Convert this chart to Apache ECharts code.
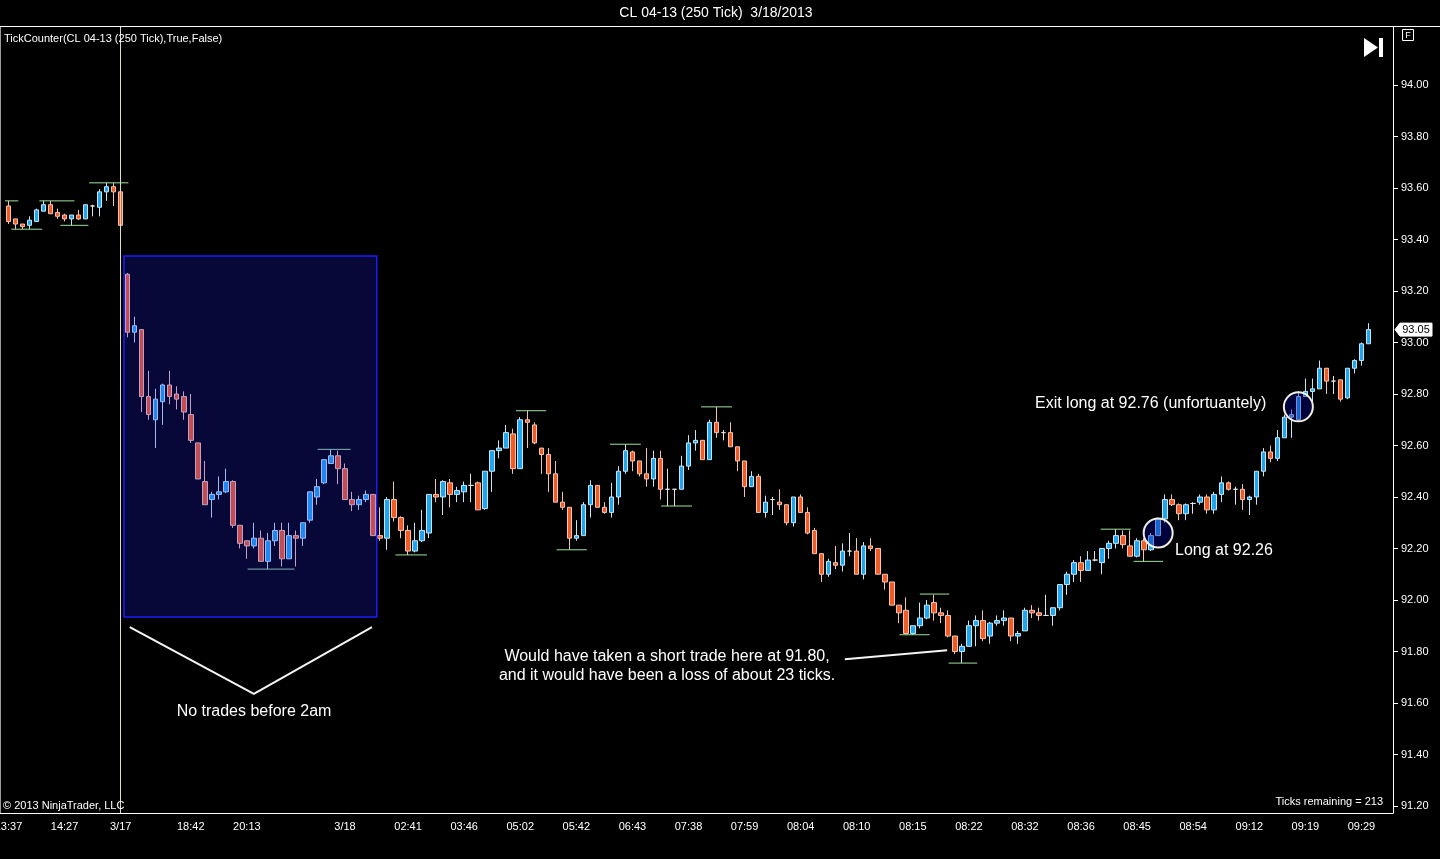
<!DOCTYPE html>
<html>
<head>
<meta charset="utf-8">
<title>CL 04-13 (250 Tick) 3/18/2013</title>
<script src="https://cdn.jsdelivr.net/npm/echarts@6/dist/echarts.min.js"></script>
<style>
html, body { margin: 0; padding: 0; background: #000; }
#chart { width: 1440px; height: 859px; }
</style>
</head>
<body>
<div id="chart"></div>
<script>
// OHLC of the 250 tick bars
var openP = [93.53,93.48,93.46,93.455,93.47,93.51,93.535,93.505,93.495,93.48,93.495,93.48,93.53,93.525,93.585,93.605,93.585,
    93.265,93.04,93.05,92.79,92.70,92.77,92.835,92.80,92.79,92.72,92.61,92.46,92.39,92.41,92.42,92.46,92.29,92.23,92.21,92.24,
    92.15,92.23,92.27,92.16,92.25,92.24,92.31,92.40,92.455,92.53,92.56,92.51,92.39,92.37,92.39,92.41,92.25,92.24,92.39,92.32,
    92.27,92.19,92.23,92.26,92.41,92.40,92.455,92.41,92.42,92.445,92.455,92.355,92.50,92.58,92.59,92.645,92.51,92.70,92.68,92.59,
    92.565,92.49,92.38,92.36,92.24,92.25,92.37,92.445,92.36,92.34,92.40,92.50,92.575,92.54,92.49,92.47,92.55,92.43,92.43,92.43,
    92.52,92.61,92.62,92.545,92.69,92.65,92.65,92.595,92.54,92.44,92.48,92.34,92.39,92.38,92.37,92.30,92.40,92.34,92.27,92.18,
    92.10,92.145,92.135,92.19,92.19,92.10,92.21,92.20,92.10,92.07,91.98,91.96,91.87,91.90,91.93,91.99,91.95,91.94,91.86,91.80,
    91.82,91.90,91.92,91.86,91.91,91.92,91.93,91.86,91.88,91.96,91.95,91.94,91.94,91.97,92.06,92.10,92.145,92.115,92.155,92.145,
    92.20,92.22,92.25,92.21,92.17,92.23,92.195,92.25,92.315,92.39,92.37,92.335,92.375,92.38,92.40,92.35,92.41,92.455,92.43,92.43,
    92.39,92.40,92.50,92.575,92.55,92.63,92.71,92.70,92.79,92.81,92.82,92.90,92.85,92.855,92.785,92.90,92.93,92.995];
var closeP = [93.47,93.46,93.45,93.475,93.515,93.535,93.50,93.49,93.48,93.495,93.48,93.535,93.53,93.585,93.605,93.585,93.455,
    93.04,93.065,92.79,92.72,92.78,92.835,92.79,92.78,92.73,92.62,92.47,92.37,92.41,92.42,92.46,92.29,92.22,92.21,92.24,92.15,
    92.23,92.27,92.16,92.25,92.24,92.30,92.42,92.44,92.545,92.56,92.51,92.39,92.37,92.39,92.41,92.25,92.24,92.39,92.32,92.27,
    92.19,92.23,92.27,92.41,92.40,92.46,92.41,92.425,92.445,92.445,92.35,92.50,92.58,92.59,92.65,92.51,92.70,92.69,92.61,92.565,
    92.49,92.38,92.36,92.24,92.25,92.37,92.445,92.36,92.34,92.40,92.50,92.58,92.54,92.49,92.47,92.55,92.43,92.43,92.43,92.52,
    92.61,92.62,92.545,92.69,92.65,92.65,92.595,92.54,92.44,92.48,92.34,92.38,92.39,92.37,92.30,92.40,92.34,92.26,92.18,92.10,
    92.15,92.135,92.19,92.19,92.10,92.21,92.20,92.10,92.07,91.98,91.95,91.87,91.90,91.93,91.98,91.95,91.94,91.86,91.80,91.82,
    91.90,91.92,91.85,91.91,91.92,91.93,91.86,91.87,91.96,91.95,91.94,91.94,91.97,92.06,92.10,92.145,92.115,92.155,92.155,92.20,
    92.22,92.25,92.215,92.17,92.23,92.195,92.25,92.315,92.39,92.37,92.335,92.37,92.375,92.40,92.35,92.41,92.455,92.43,92.43,92.39,
    92.40,92.50,92.575,92.55,92.63,92.71,92.72,92.79,92.81,92.82,92.90,92.85,92.85,92.78,92.90,92.93,92.995,93.05];
var lowP = [93.46,93.44,93.44,93.44,93.47,93.51,93.50,93.48,93.47,93.455,93.475,93.48,93.49,93.49,93.55,93.53,93.44,
    93.02,93.00,92.73,92.70,92.59,92.68,92.76,92.74,92.70,92.61,92.47,92.37,92.32,92.39,92.415,92.28,92.20,92.16,92.20,92.15,
    92.12,92.21,92.13,92.16,92.13,92.21,92.30,92.37,92.45,92.53,92.45,92.39,92.345,92.35,92.38,92.25,92.23,92.195,92.305,92.24,
    92.175,92.185,92.225,92.24,92.38,92.33,92.36,92.38,92.38,92.38,92.35,92.35,92.42,92.55,92.59,92.49,92.51,92.59,92.605,92.49,
    92.42,92.38,92.35,92.195,92.23,92.25,92.32,92.36,92.335,92.32,92.37,92.49,92.50,92.48,92.44,92.44,92.39,92.365,92.365,92.43,
    92.505,92.58,92.545,92.545,92.63,92.62,92.595,92.50,92.40,92.44,92.34,92.32,92.33,92.35,92.29,92.285,92.34,92.255,92.18,92.07,
    92.09,92.12,92.11,92.17,92.10,92.08,92.19,92.10,92.04,91.98,91.91,91.87,91.865,91.89,91.925,91.92,91.91,91.855,91.79,91.755,
    91.82,91.82,91.84,91.83,91.90,91.90,91.84,91.83,91.88,91.93,91.92,91.94,91.90,91.96,92.02,92.07,92.07,92.115,92.15,92.10,
    92.16,92.20,92.20,92.17,92.165,92.15,92.19,92.25,92.30,92.365,92.31,92.31,92.335,92.37,92.335,92.335,92.38,92.425,92.37,92.35,
    92.33,92.37,92.48,92.535,92.54,92.63,92.63,92.70,92.79,92.77,92.82,92.80,92.80,92.77,92.78,92.88,92.91,92.995];
var highP = [93.55,93.48,93.46,93.49,93.52,93.55,93.55,93.52,93.50,93.495,93.515,93.535,93.535,93.595,93.62,93.62,93.585,
    93.27,93.10,93.05,92.89,92.82,92.84,92.89,92.83,92.81,92.80,92.61,92.54,92.42,92.48,92.51,92.465,92.29,92.23,92.30,92.27,
    92.26,92.30,92.30,92.30,92.27,92.30,92.42,92.47,92.545,92.585,92.58,92.53,92.42,92.405,92.425,92.41,92.36,92.40,92.46,92.325,
    92.29,92.30,92.35,92.41,92.47,92.465,92.47,92.44,92.46,92.49,92.46,92.50,92.58,92.62,92.68,92.665,92.71,92.735,92.69,92.59,
    92.59,92.54,92.42,92.36,92.31,92.38,92.465,92.445,92.38,92.455,92.52,92.605,92.58,92.54,92.59,92.58,92.58,92.51,92.43,92.56,
    92.64,92.66,92.62,92.70,92.75,92.66,92.69,92.595,92.54,92.50,92.49,92.405,92.40,92.43,92.37,92.40,92.41,92.36,92.28,92.18,
    92.16,92.21,92.22,92.26,92.24,92.225,92.24,92.20,92.10,92.07,91.98,92.01,91.90,91.99,92.00,92.02,91.97,91.96,91.86,91.83,
    91.92,91.94,91.96,91.915,91.94,91.96,91.93,91.88,91.97,91.98,91.97,92.02,91.97,92.06,92.11,92.155,92.17,92.19,92.19,92.20,
    92.23,92.275,92.27,92.27,92.24,92.24,92.26,92.32,92.41,92.41,92.375,92.375,92.38,92.41,92.41,92.42,92.48,92.46,92.44,92.45,
    92.405,92.50,92.59,92.60,92.66,92.72,92.74,92.81,92.86,92.86,92.93,92.90,92.87,92.855,92.90,92.935,93.00,93.075];

// time axis: bar index of each tick and its label
var tickBars = [0, 8, 16, 26, 34, 42, 48, 57, 65, 73, 81, 89, 97, 105, 113, 121, 129, 137, 145, 153, 161, 169, 177, 185, 193];
var tickLabels = ['13:37', '14:27', '3/17', '18:42', '20:13', '', '3/18', '02:41', '03:46', '05:02', '05:42', '06:43', '07:38',
    '07:59', '08:04', '08:10', '08:15', '08:22', '08:32', '08:36', '08:45', '08:54', '09:12', '09:19', '09:29'];
var priceTicks = [91.2, 91.4, 91.6, 91.8, 92.0, 92.2, 92.4, 92.6, 92.8, 93.0, 93.2, 93.4, 93.6, 93.8, 94.0];

// swing high / low markers: [from bar, to bar, price]
var swingLines = [[-0.5, 1.4, 93.55], [0.4, 4.8, 93.44], [4.4, 9.4, 93.55], [7.4, 11.4, 93.455], [11.5, 17.1, 93.62],
    [34.1, 40.8, 92.12], [44.1, 48.8, 92.585], [55.2, 59.7, 92.175], [72.4, 76.7, 92.735], [78.2, 82.5, 92.195],
    [85.8, 90.2, 92.605], [93.1, 97.5, 92.365], [98.8, 103.2, 92.75], [127.1, 131.4, 91.865], [130.0, 134.2, 92.023],
    [134.1, 138.2, 91.755], [155.8, 160.1, 92.275], [160.5, 164.7, 92.15]];

// annotations (bar index, price)
var sessionBar = 16;
var noTradeBox = [16.48, 93.336, 52.53, 91.934];
var noTradeV = [[17.3, 91.895], [35.0, 91.635], [51.85, 91.895]];
var shortPointer = [[119.3, 91.77], [133.9, 91.805]];
var tradeMarks = [[164, 92.26], [184, 92.75]];
var lastPrice = 93.05;

var padBars = 3;
var categories = [];
var candles = [];
var i;
for (i = 0; i < openP.length + padBars; i++) {
    categories.push(String(i));
}
for (i = 0; i < openP.length; i++) {
    candles.push([openP[i], closeP[i], lowP[i], highP[i]]);
}

var FONT = '"Liberation Sans", Arial, sans-serif';
var chart = echarts.init(document.getElementById('chart'));

var option = {
    backgroundColor: '#000',
    animation: false,
    grid: { left: 5, right: 47, top: 27, bottom: 46, containLabel: false, outerBoundsMode: 'none' },
    xAxis: [{
        type: 'category',
        data: categories,
        boundaryGap: true,
        axisLine: { onZero: false, lineStyle: { color: '#ffffff', width: 1 } },
        axisTick: {
            alignWithLabel: true,
            length: 6,
            lineStyle: { color: '#ffffff' },
            interval: function (idx) { return tickBars.indexOf(idx) >= 0; }
        },
        axisLabel: {
            color: '#ffffff',
            fontSize: 11,
            fontFamily: FONT,
            margin: 8,
            interval: function (idx) { return tickBars.indexOf(idx) >= 0; },
            formatter: function (val) {
                var k = tickBars.indexOf(Number(val));
                return k >= 0 ? tickLabels[k] : '';
            }
        },
        splitLine: { show: false }
    }, {
        type: 'value',
        min: -0.5,
        max: categories.length - 0.5,
        show: false
    }],
    yAxis: {
        type: 'value',
        position: 'right',
        min: 91.1728,
        max: 94.2252,
        axisLine: { show: true, onZero: false, lineStyle: { color: '#ffffff' } },
        axisTick: { show: true, length: 5, customValues: priceTicks, lineStyle: { color: '#ffffff' } },
        axisLabel: {
            customValues: priceTicks,
            color: '#ffffff',
            fontSize: 11,
            fontFamily: FONT,
            margin: 8,
            formatter: function (v) { return v.toFixed(2); }
        },
        splitLine: { show: false }
    },
    series: [{
        type: 'candlestick',
        xAxisIndex: 0,
        data: candles,
        barWidth: 5,
        z: 2,
        itemStyle: {
            color: '#20a4ee',
            color0: '#f05a23',
            borderColor: '#c4e6f6',
            borderColor0: '#f2c4b4',
            borderColorDoji: '#e4e4e4',
            borderWidth: 1
        },
        markLine: {
            silent: true,
            symbol: ['none', 'none'],
            label: { show: false },
            lineStyle: { color: '#dcdccc', width: 1, type: 'solid' },
            data: [{ xAxis: String(sessionBar) }]
        }
    }, {
        type: 'custom',
        xAxisIndex: 1,
        z: 3,
        silent: true,
        data: swingLines,
        encode: { x: [0, 1], y: 2 },
        renderItem: function (params, api) {
            var p0 = api.coord([api.value(0), api.value(2)]);
            var p1 = api.coord([api.value(1), api.value(2)]);
            return {
                type: 'line',
                shape: { x1: p0[0], y1: p0[1], x2: p1[0], y2: p1[1] },
                style: { stroke: '#9ee39e', lineWidth: 1 }
            };
        }
    }, {
        type: 'custom',
        xAxisIndex: 1,
        z: 4,
        silent: true,
        data: [noTradeBox],
        encode: { x: [0, 2], y: [1, 3] },
        renderItem: function (params, api) {
            var p0 = api.coord([api.value(0), api.value(1)]);
            var p1 = api.coord([api.value(2), api.value(3)]);
            return {
                type: 'rect',
                shape: { x: p0[0], y: p0[1], width: p1[0] - p0[0], height: p1[1] - p0[1] },
                style: { fill: 'rgba(30,30,255,0.22)', stroke: '#1c1cff', lineWidth: 1.5 }
            };
        }
    }, {
        type: 'line',
        xAxisIndex: 1,
        z: 5,
        silent: true,
        data: noTradeV,
        symbol: 'none',
        lineStyle: { color: '#f4f4f4', width: 2 }
    }, {
        type: 'line',
        xAxisIndex: 1,
        z: 5,
        silent: true,
        data: shortPointer,
        symbol: 'none',
        lineStyle: { color: '#f4f4f4', width: 2 }
    }, {
        type: 'scatter',
        xAxisIndex: 1,
        z: 6,
        silent: true,
        data: tradeMarks,
        symbol: 'circle',
        symbolSize: 29,
        itemStyle: { color: 'rgba(0,0,160,0.38)', borderColor: '#f4f0e2', borderWidth: 2, opacity: 1 }
    }]
};
chart.setOption(option);

// texts, frame and the last price tag
function txt(id, s, x, y, size, align) {
    return {
        type: 'text', id: id, z: 20, silent: true,
        style: {
            text: s, x: x, y: y, fill: '#ffffff',
            font: size + 'px ' + FONT,
            align: align || 'left', textAlign: align || 'left',
            verticalAlign: 'middle', textVerticalAlign: 'middle'
        }
    };
}
var tagY = chart.convertToPixel({ yAxisIndex: 0 }, lastPrice);
var graphics = [
    { type: 'line', id: 'topFrame', silent: true, shape: { x1: 0, y1: 26.5, x2: 1440, y2: 26.5 }, style: { stroke: '#ffffff', lineWidth: 1 } },
    { type: 'line', id: 'leftFrame', silent: true, shape: { x1: 0.5, y1: 27, x2: 0.5, y2: 813 }, style: { stroke: '#9a9a9a', lineWidth: 1 } },
    { type: 'line', id: 'bottomFrame', silent: true, shape: { x1: 0, y1: 813.5, x2: 6, y2: 813.5 }, style: { stroke: '#ffffff', lineWidth: 1 } },
    txt('title', 'CL 04-13 (250 Tick)  3/18/2013', 716, 13, 14, 'center'),
    txt('ind', 'TickCounter(CL 04-13 (250 Tick),True,False)', 4, 39, 11),
    txt('copy', '\u00a9 2013 NinjaTrader, LLC', 3, 806, 11),
    txt('remain', 'Ticks remaining = 213', 1383, 802, 11, 'right'),
    txt('noTrade', 'No trades before 2am', 254, 712, 16, 'center'),
    txt('short1', 'Would have taken a short trade here at 91.80,', 667, 657, 16, 'center'),
    txt('short2', 'and it would have been a loss of about 23 ticks.', 667, 676, 16, 'center'),
    txt('long', 'Long at 92.26', 1175, 551, 16),
    txt('exit', 'Exit long at 92.76 (unfortuantely)', 1035, 404, 16),
    { type: 'polygon', id: 'play', silent: true, shape: { points: [[1364, 38], [1378, 47.5], [1364, 57]] }, style: { fill: '#ffffff' } },
    { type: 'rect', id: 'playBar', silent: true, shape: { x: 1379, y: 38, width: 4, height: 19 }, style: { fill: '#ffffff' } },
    { type: 'rect', id: 'fBox', silent: true, shape: { x: 1402.5, y: 29.5, width: 11, height: 11 }, style: { fill: '#000', stroke: '#ffffff', lineWidth: 1 } },
    txt('fTxt', 'F', 1408, 35.5, 9, 'center'),
    { type: 'polygon', id: 'tag', silent: true, z: 20,
      shape: { points: [[1395, tagY], [1400, tagY - 6.5], [1432, tagY - 6.5], [1432, tagY + 6.5], [1400, tagY + 6.5]] },
      style: { fill: '#ffffff', stroke: '#ffffff' } },
    { type: 'text', id: 'tagTxt', silent: true, z: 21,
      style: { text: lastPrice.toFixed(2), x: 1416, y: tagY, fill: '#000000', font: '11px ' + FONT,
               align: 'center', textAlign: 'center', verticalAlign: 'middle', textVerticalAlign: 'middle' } }
];
chart.setOption({ graphic: graphics });
</script>
</body>
</html>
